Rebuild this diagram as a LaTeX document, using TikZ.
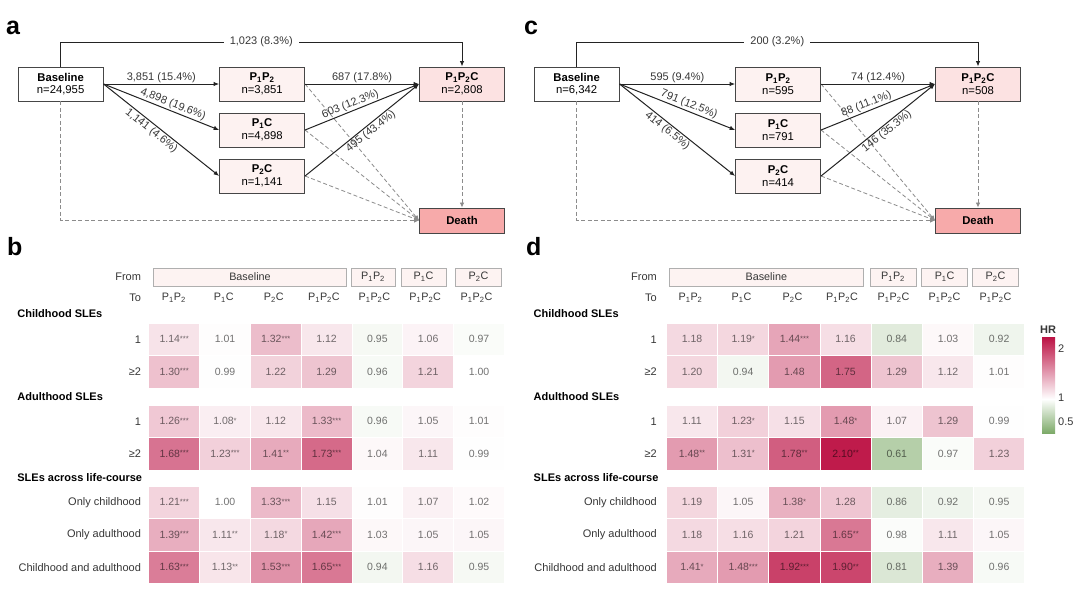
\documentclass[tikz,border=0pt]{standalone}
\usepackage{fontspec}
\setmainfont{Liberation Sans}
\usetikzlibrary{arrows.meta}
\definecolor{hrred}{RGB}{188,18,68}
\definecolor{hrgreen}{RGB}{125,170,105}
\definecolor{midfill}{RGB}{253,242,241}
\definecolor{endfill}{RGB}{252,226,226}
\definecolor{deathfill}{RGB}{247,170,170}
\definecolor{boxline}{RGB}{70,70,70}
\definecolor{flowline}{RGB}{35,35,35}
\definecolor{dashline}{RGB}{140,140,140}
\definecolor{hdrfill}{RGB}{253,243,242}
\definecolor{hdrline}{RGB}{175,175,175}
\definecolor{textgray}{RGB}{55,55,55}
\newcommand\fs[1]{\fontsize{#1}{#1}\selectfont}
\newcommand\sub[1]{\textsubscript{#1}}
\newcommand\stx[1]{\raisebox{1.8pt}{\fs{7.6}#1}}
\newcommand\starmark[1]{\ifcase#1\relax\or\stx{*}\or\stx{**}\or\stx{***}\fi}
\newcommand\hmrow[5]{%
  \foreach \v/\s [count=\i] in {#5}{%
    \pgfmathtruncatemacro\up{\v>0.9999 ? 1 : 0}%
    \pgfmathtruncatemacro\pct{\up==1 ? min(100,round((\v-1)/1.15*100)) : min(100,round((1-\v)/0.69*100))}%
    \ifnum\up=1 \colorlet{cc}{hrred!\pct!white}\else\colorlet{cc}{hrgreen!\pct!white}\fi
    \node[hmcell=#3, fill=cc] (#1-\i) at ({#2+(\i-0.5)*#3},{#4+16.25}) {\v\starmark{\s}};
  }%
}
\begin{document}
\begin{tikzpicture}[x=1pt,y=-1pt,
  stbox/.style={draw=boxline, line width=0.9pt, minimum width=85pt, minimum height=34pt, inner sep=0pt, align=center, font=\fontsize{11.3}{12.5}\selectfont},
  flow/.style={draw=flowline, line width=1pt, -{Latex[length=5.5pt,width=4.5pt]}},
  dflow/.style={draw=dashline, line width=0.8pt, dash pattern=on 4pt off 2.5pt, -{Latex[length=5pt,width=4.5pt]}},
  elab/.style={font=\fs{11}, inner sep=1.2pt, text=textgray},
  plet/.style={font=\fs{25}\bfseries, inner sep=0pt, anchor=base west},
  hmcell/.style={draw=white, line width=0.7pt, minimum width=#1pt, minimum height=32.5pt, inner sep=0pt, font=\fs{10.5}, text=black, text opacity=0.55},
  hdrbox/.style={draw=hdrline, line width=0.7pt, fill=hdrfill, minimum height=18pt, inner sep=0pt, font=\fs{10.8}, text=textgray},
  tolab/.style={font=\fs{10.8}, inner sep=0pt, text=textgray},
  rowlab/.style={font=\fs{11}, inner sep=0pt, anchor=east, text=textgray},
  seclab/.style={font=\fs{11}\bfseries, inner sep=0pt, anchor=west},
]
\useasboundingbox (0,0) rectangle (1080,603);
\fill[white] (0,0) rectangle (1080,603);

% ---------------- panel a ----------------
\node[plet] (la) at (6,34) {a};
\node[stbox] (aB) at (60.6,84) {\textbf{Baseline}\\n=24,955};
\node[stbox, fill=midfill] (aP12) at (262.1,84) {\textbf{P\sub{1}P\sub{2}}\\n=3,851};
\node[stbox, fill=midfill] (aP1C) at (262.1,130) {\textbf{P\sub{1}C}\\n=4,898};
\node[stbox, fill=midfill] (aP2C) at (262.1,176) {\textbf{P\sub{2}C}\\n=1,141};
\node[stbox, fill=endfill] (aE) at (462,84) {\textbf{P\sub{1}P\sub{2}C}\\n=2,808};
\node[stbox, fill=deathfill, minimum height=25pt] (aD) at (462,220.5) {\textbf{Death}};
\coordinate (aT1) at (60.6,42);
\coordinate (aT2) at (462,42);
\draw[dflow] (aB.south) |- (aD.west);
\draw[dflow] (aE.south) -- (aD.north);
\draw[dflow] (aP12.east) -- (aD.west);
\draw[dflow] (aP1C.east) -- (aD.west);
\draw[dflow] (aP2C.east) -- (aD.west);
\draw[flow] (aB.north) -- (aT1) -- node[elab, fill=white, inner xsep=6pt] {1,023 (8.3\%)} (aT2) -- (aE.north);
\draw[flow] (aB.east) -- node[elab, above] {3,851 (15.4\%)} (aP12.west);
\draw[flow] (aB.east) -- node[elab, above, sloped, pos=0.58] {4,898 (19.6\%)} (aP1C.west);
\draw[flow] (aB.east) -- node[elab, below, sloped, pos=0.45] {1,141 (4.6\%)} (aP2C.west);
\draw[flow] (aP12.east) -- node[elab, above] {687 (17.8\%)} (aE.west);
\draw[flow] (aP1C.east) -- node[elab, above, sloped, pos=0.42] {603 (12.3\%)} (aE.west);
\draw[flow] (aP2C.east) -- node[elab, below, sloped, pos=0.54] {495 (43.4\%)} (aE.west);

% ---------------- panel c ----------------
\node[plet] (lc) at (524,34) {c};
\node[stbox] (cB) at (576.6,84) {\textbf{Baseline}\\n=6,342};
\node[stbox, fill=midfill] (cP12) at (778.1,84) {\textbf{P\sub{1}P\sub{2}}\\n=595};
\node[stbox, fill=midfill] (cP1C) at (778.1,130) {\textbf{P\sub{1}C}\\n=791};
\node[stbox, fill=midfill] (cP2C) at (778.1,176) {\textbf{P\sub{2}C}\\n=414};
\node[stbox, fill=endfill] (cE) at (978,84) {\textbf{P\sub{1}P\sub{2}C}\\n=508};
\node[stbox, fill=deathfill, minimum height=25pt] (cD) at (978,220.5) {\textbf{Death}};
\coordinate (cT1) at (576.6,42);
\coordinate (cT2) at (978,42);
\draw[dflow] (cB.south) |- (cD.west);
\draw[dflow] (cE.south) -- (cD.north);
\draw[dflow] (cP12.east) -- (cD.west);
\draw[dflow] (cP1C.east) -- (cD.west);
\draw[dflow] (cP2C.east) -- (cD.west);
\draw[flow] (cB.north) -- (cT1) -- node[elab, fill=white, inner xsep=6pt] {200 (3.2\%)} (cT2) -- (cE.north);
\draw[flow] (cB.east) -- node[elab, above] {595 (9.4\%)} (cP12.west);
\draw[flow] (cB.east) -- node[elab, above, sloped, pos=0.58] {791 (12.5\%)} (cP1C.west);
\draw[flow] (cB.east) -- node[elab, below, sloped, pos=0.45] {414 (6.5\%)} (cP2C.west);
\draw[flow] (cP12.east) -- node[elab, above] {74 (12.4\%)} (cE.west);
\draw[flow] (cP1C.east) -- node[elab, above, sloped, pos=0.42] {88 (11.1\%)} (cE.west);
\draw[flow] (cP2C.east) -- node[elab, below, sloped, pos=0.54] {146 (35.3\%)} (cE.west);

% ---------------- panel b ----------------
\node[plet] (lb) at (7,255) {b};
\node[rowlab] (bFrom) at (141.2,277) {From};
\node[rowlab] (bTo) at (141.2,298) {To};
\node[hdrbox, minimum width=193.6pt] (bhB) at (250,277) {Baseline};
\node[hdrbox, minimum width=44pt] (bh1) at (373,277) {P\sub{1}P\sub{2}};
\node[hdrbox, minimum width=45pt] (bh2) at (423.5,277) {P\sub{1}C};
\node[hdrbox, minimum width=46pt] (bh3) at (478.5,277) {P\sub{2}C};
\node[tolab] (bt1) at (173.9,298) {P\sub{1}P\sub{2}};
\node[tolab] (bt2) at (223.8,298) {P\sub{1}C};
\node[tolab] (bt3) at (273.8,298) {P\sub{2}C};
\node[tolab] (bt4) at (323.9,298) {P\sub{1}P\sub{2}C};
\node[tolab] (bt5) at (374.4,298) {P\sub{1}P\sub{2}C};
\node[tolab] (bt6) at (425.2,298) {P\sub{1}P\sub{2}C};
\node[tolab] (bt7) at (476.5,298) {P\sub{1}P\sub{2}C};
\node[seclab] (bS1) at (17.2,314) {Childhood SLEs};
\node[seclab] (bS2) at (17.2,397) {Adulthood SLEs};
\node[seclab] (bS3) at (17.2,478) {SLEs across life-course};
\node[rowlab] (bL1) at (141.2,339.25) {1};
\node[rowlab] (bL2) at (141.2,371.75) {≥2};
\node[rowlab] (bL3) at (141.2,421.25) {1};
\node[rowlab] (bL4) at (141.2,453.75) {≥2};
\node[rowlab] (bL5) at (141.2,502.25) {Only childhood};
\node[rowlab] (bL6) at (141.2,534.75) {Only adulthood};
\node[rowlab] (bL7) at (141.2,567.25) {Childhood and adulthood};
\hmrow{bR1}{148.8}{50.8}{323}{1.14/3, 1.01/0, 1.32/3, 1.12/0, 0.95/0, 1.06/0, 0.97/0}
\hmrow{bR2}{148.8}{50.8}{355.5}{1.30/3, 0.99/0, 1.22/0, 1.29/0, 0.96/0, 1.21/0, 1.00/0}
\hmrow{bR3}{148.8}{50.8}{405}{1.26/3, 1.08/1, 1.12/0, 1.33/3, 0.96/0, 1.05/0, 1.01/0}
\hmrow{bR4}{148.8}{50.8}{437.5}{1.68/3, 1.23/3, 1.41/2, 1.73/3, 1.04/0, 1.11/0, 0.99/0}
\hmrow{bR5}{148.8}{50.8}{486}{1.21/3, 1.00/0, 1.33/3, 1.15/0, 1.01/0, 1.07/0, 1.02/0}
\hmrow{bR6}{148.8}{50.8}{518.5}{1.39/3, 1.11/2, 1.18/1, 1.42/3, 1.03/0, 1.05/0, 1.05/0}
\hmrow{bR7}{148.8}{50.8}{551}{1.63/3, 1.13/2, 1.53/3, 1.65/3, 0.94/0, 1.16/0, 0.95/0}

% ---------------- panel d ----------------
\node[plet] (ld) at (526,255) {d};
\node[rowlab] (dFrom) at (657,277) {From};
\node[rowlab] (dTo) at (657,298) {To};
\node[hdrbox, minimum width=194.7pt] (dhB) at (766.3,277) {Baseline};
\node[hdrbox, minimum width=46pt] (dh1) at (893,277) {P\sub{1}P\sub{2}};
\node[hdrbox, minimum width=46pt] (dh2) at (944.6,277) {P\sub{1}C};
\node[hdrbox, minimum width=46pt] (dh3) at (995.5,277) {P\sub{2}C};
\node[tolab] (dt1) at (690.5,298) {P\sub{1}P\sub{2}};
\node[tolab] (dt2) at (741.5,298) {P\sub{1}C};
\node[tolab] (dt3) at (792.5,298) {P\sub{2}C};
\node[tolab] (dt4) at (842,298) {P\sub{1}P\sub{2}C};
\node[tolab] (dt5) at (893.5,298) {P\sub{1}P\sub{2}C};
\node[tolab] (dt6) at (944.5,298) {P\sub{1}P\sub{2}C};
\node[tolab] (dt7) at (995.5,298) {P\sub{1}P\sub{2}C};
\node[seclab] (dS1) at (533.5,314) {Childhood SLEs};
\node[seclab] (dS2) at (533.5,397) {Adulthood SLEs};
\node[seclab] (dS3) at (533.5,478) {SLEs across life-course};
\node[rowlab] (dL1) at (657,339.25) {1};
\node[rowlab] (dL2) at (657,371.75) {≥2};
\node[rowlab] (dL3) at (657,421.25) {1};
\node[rowlab] (dL4) at (657,453.75) {≥2};
\node[rowlab] (dL5) at (657,502.25) {Only childhood};
\node[rowlab] (dL6) at (657,534.75) {Only adulthood};
\node[rowlab] (dL7) at (657,567.25) {Childhood and adulthood};
\hmrow{dR1}{666.4}{51.2}{323}{1.18/0, 1.19/1, 1.44/3, 1.16/0, 0.84/0, 1.03/0, 0.92/0}
\hmrow{dR2}{666.4}{51.2}{355.5}{1.20/0, 0.94/0, 1.48/0, 1.75/0, 1.29/0, 1.12/0, 1.01/0}
\hmrow{dR3}{666.4}{51.2}{405}{1.11/0, 1.23/1, 1.15/0, 1.48/1, 1.07/0, 1.29/0, 0.99/0}
\hmrow{dR4}{666.4}{51.2}{437.5}{1.48/2, 1.31/1, 1.78/2, 2.10/2, 0.61/0, 0.97/0, 1.23/0}
\hmrow{dR5}{666.4}{51.2}{486}{1.19/0, 1.05/0, 1.38/1, 1.28/0, 0.86/0, 0.92/0, 0.95/0}
\hmrow{dR6}{666.4}{51.2}{518.5}{1.18/0, 1.16/0, 1.21/0, 1.65/2, 0.98/0, 1.11/0, 1.05/0}
\hmrow{dR7}{666.4}{51.2}{551}{1.41/1, 1.48/3, 1.92/3, 1.90/2, 0.81/0, 1.39/0, 0.96/0}

% colour bar
\node[font=\fs{11}\bfseries, inner sep=0pt, text=textgray] (hrlab) at (1048,330) {HR};
\shade[top color=hrred, bottom color=white] (1042,337) rectangle (1055,399);
\shade[top color=white, bottom color=hrgreen] (1042,399) rectangle (1055,433);
\node[anchor=west, font=\fs{11}, inner sep=0pt, text=textgray] (hr2) at (1058,349) {2};
\node[anchor=west, font=\fs{11}, inner sep=0pt, text=textgray] (hr1) at (1058,398) {1};
\node[anchor=west, font=\fs{11}, inner sep=0pt, text=textgray] (hr05) at (1058,422) {0.5};
\end{tikzpicture}
\end{document}
